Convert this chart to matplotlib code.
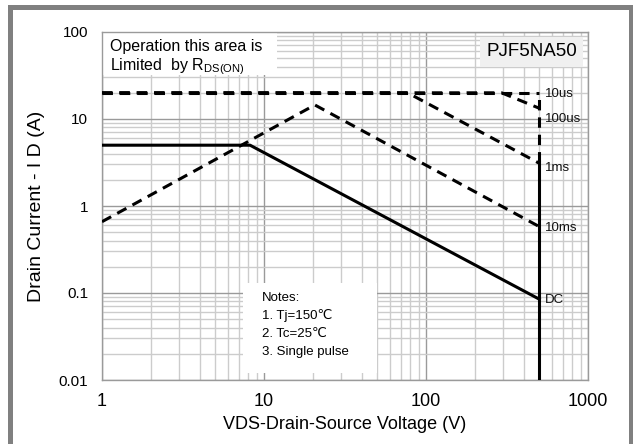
import matplotlib

matplotlib.use("Agg")
import matplotlib.pyplot as plt
from matplotlib.patches import Rectangle
from matplotlib.ticker import LogLocator, NullFormatter, FixedLocator, FixedFormatter

plt.rcParams["font.family"] = ["Liberation Sans", "DejaVu Sans"]
plt.rcParams["lines.scale_dashes"] = False

# SOA curves (V in volts, I in amps)
v_10us = [1, 500]
i_10us = [20, 20]
v_100us = [1, 293, 500]
i_100us = [20, 20, 13.3]
v_1ms = [1, 77, 500]
i_1ms = [20, 20, 3.1]
v_10ms = [1, 20.6, 500]
i_10ms = [0.66, 14.5, 0.58]
v_dc = [1, 8.2, 500]
i_dc = [5, 5, 0.085]
v_bv = [500, 500]
i_bv_solid = [0.01, 3.2]
i_bv_dash = [3.2, 20]

curve_labels = ["10us", "100us", "1ms", "10ms", "DC"]
label_y = [19.5, 10.0, 2.75, 0.56, 0.083]

x_ticks = [1, 10, 100, 1000]
x_ticklabels = ["1", "10", "100", "1000"]
y_ticks = [0.01, 0.1, 1, 10, 100]
y_ticklabels = ["0.01", "0.1", "1", "10", "100"]
notes = ["Notes:", "1. Tj=150\u2103", "2. Tc=25\u2103", "3. Single pulse"]

W, H = 633, 444
fig = plt.figure(figsize=(W / 100, H / 100), dpi=100)
ax = fig.add_axes([102 / W, (H - 380) / H, 486 / W, 348 / H])
ax.set_xscale("log")
ax.set_yscale("log")
ax.set_xlim(1, 1000)
ax.set_ylim(0.01, 100)
ax.set_axisbelow(True)

ax.xaxis.set_major_locator(FixedLocator(x_ticks))
ax.xaxis.set_major_formatter(FixedFormatter(x_ticklabels))
ax.yaxis.set_major_locator(FixedLocator(y_ticks))
ax.yaxis.set_major_formatter(FixedFormatter(y_ticklabels))
for axis in (ax.xaxis, ax.yaxis):
    axis.set_minor_locator(LogLocator(base=10, subs=range(2, 10), numticks=20))
    axis.set_minor_formatter(NullFormatter())
ax.tick_params(which="both", length=0)
ax.tick_params(axis="x", labelsize=13, pad=9)
ax.tick_params(axis="y", labelsize=11, pad=10)
ax.grid(which="major", color="#9a9a9a", linewidth=1.0)
ax.grid(which="minor", color="#cccccc", linewidth=1.0)
for s in ax.spines.values():
    s.set_color("#9a9a9a")
    s.set_linewidth(1.0)

ax.set_xlabel("VDS-Drain-Source Voltage (V)", fontsize=13, labelpad=5)
ax.set_ylabel("Drain Current - I D (A)", fontsize=14, labelpad=10)

dash = (0, (7.5, 5))
lw = 2.2
ax.plot(v_10us, i_10us, color="black", lw=lw, linestyle=dash, zorder=3)
ax.plot(v_100us, i_100us, color="black", lw=lw, linestyle=dash, zorder=3)
ax.plot(v_1ms, i_1ms, color="black", lw=lw, linestyle=dash, zorder=3)
ax.plot(v_10ms, i_10ms, color="black", lw=lw, linestyle=dash, zorder=3)
ax.plot(v_bv, i_bv_dash, color="black", lw=lw, linestyle=dash, zorder=3)
ax.plot(v_dc, i_dc, color="black", lw=lw, zorder=3)
ax.plot(v_bv, i_bv_solid, color="black", lw=lw, zorder=3)

for lab, y in zip(curve_labels, label_y):
    ax.text(540, y, lab, fontsize=9.5, ha="left", va="center", color="#111111", zorder=4)

# white boxes masking the grid
ax.add_patch(Rectangle((0, 0.876), 0.36, 0.124, transform=ax.transAxes,
                       facecolor="white", edgecolor="none", zorder=2))
ax.text(0.016, 0.957, "Operation this area is", transform=ax.transAxes,
        fontsize=11.5, va="center", ha="left", zorder=4)
ax.text(0.016, 0.9, r"Limited  by R$_{\mathregular{DS(ON)}}$", transform=ax.transAxes,
        fontsize=11.5, va="center", ha="left", zorder=4)

ax.add_patch(Rectangle((0.778, 0.9), 0.212, 0.086, transform=ax.transAxes,
                       facecolor="#f0f0f0", edgecolor="none", zorder=2))
ax.text(0.885, 0.943, "PJF5NA50", transform=ax.transAxes,
        fontsize=13.5, va="center", ha="center", zorder=4)

ax.add_patch(Rectangle((0.29, 0.02), 0.276, 0.259, transform=ax.transAxes,
                       facecolor="white", edgecolor="none", zorder=2))
for k, line in enumerate(notes):
    ax.text((262 - 102) / 486, 1 - (298 + 18 * k - 32) / 348, line,
            transform=ax.transAxes, fontsize=9.5, va="center", ha="left", zorder=4)

# grey outer frame
fig.patches.append(Rectangle((9.5 / W, -0.05), 621 / W, 1.05 - 7 / H,
                             transform=fig.transFigure, fill=False,
                             edgecolor="#808080", linewidth=3.6))

fig.savefig("out.png", dpi=100)
